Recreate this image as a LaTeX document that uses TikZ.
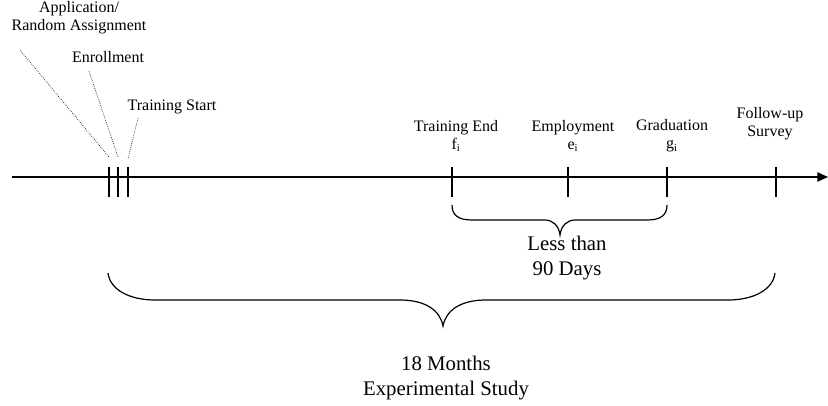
\documentclass[tikz,border=0pt]{standalone}
\usepackage{fontspec}
\setmainfont{Liberation Serif}
\usetikzlibrary{arrows.meta}

\begin{document}
\begin{tikzpicture}
    [
        x=0.75pt, y=-0.75pt,
        tick style/.style={line width=1pt},
        leader style/.style={densely dotted, line width=0.5pt},
        brace style/.style={line width=0.9pt},
        small label/.style={font=\fontsize{12}{13.5}\selectfont, align=center, inner sep=0pt},
        big label/.style={font=\fontsize{15.6}{19}\selectfont, align=center, inner sep=0pt}
    ]
    \useasboundingbox (0,0) rectangle (828,406);
    % time axis
    \coordinate (start) at (12,177);
    \coordinate (end) at (828,177);
    \draw[line width=1pt, -{Triangle[length=8pt,width=7pt]}] (start) -- (end);
    \foreach \name/\x in {app/109, enr/118, trs/128, tre/452, emp/568, grd/667, fol/776}
    {
        \coordinate (\name top) at (\x,167);
        \coordinate (\name bot) at (\x,197);
        \draw[tick style] (\name top) -- (\name bot);
    }
    % labels above the axis
    \node[small label] (applabel) at (79,18) {Application/\\Random Assignment};
    \node[small label] (enrlabel) at (108,57) {Enrollment};
    \node[small label] (trslabel) at (172,107) {Training Start};
    \node[small label] (trelabel) at (456,136) {Training End\\f\textsubscript{i}};
    \node[small label] (emplabel) at (573,136) {Employment\\e\textsubscript{i}};
    \node[small label] (grdlabel) at (672,136) {Graduation\\g\textsubscript{i}};
    \node[small label] (follabel) at (770,124) {Follow-up\\Survey};
    % leader lines
    \coordinate (app from) at (20,50);
    \coordinate (app to) at (109,157);
    \coordinate (enr from) at (89,71);
    \coordinate (enr to) at (118,157);
    \coordinate (trs from) at (138,118);
    \coordinate (trs to) at (128,159);
    \draw[leader style] (app from) -- (app to);
    \draw[leader style] (enr from) -- (enr to);
    \draw[leader style] (trs from) -- (trs to);
    % braces
    \draw[brace style] (452,205) .. controls (452,215) and (458,220) .. (472,220) -- (545,220)
        .. controls (553,220) and (559,226) .. (560,235)
        .. controls (561,226) and (567,220) .. (575,220) -- (647,220)
        .. controls (661,220) and (667,215) .. (667,205);
    \draw[brace style] (108,273) .. controls (110,290) and (130,300) .. (155,300) -- (400,300)
        .. controls (425,300) and (440,310) .. (443,326)
        .. controls (446,310) and (461,300) .. (486,300) -- (728,300)
        .. controls (753,300) and (773,290) .. (775,273);
    \node[big label] (shortlabel) at (567,258) {Less than\\90 Days};
    \node[big label] (studylabel) at (446,378) {18 Months\\Experimental Study};
\end{tikzpicture}
\end{document}
